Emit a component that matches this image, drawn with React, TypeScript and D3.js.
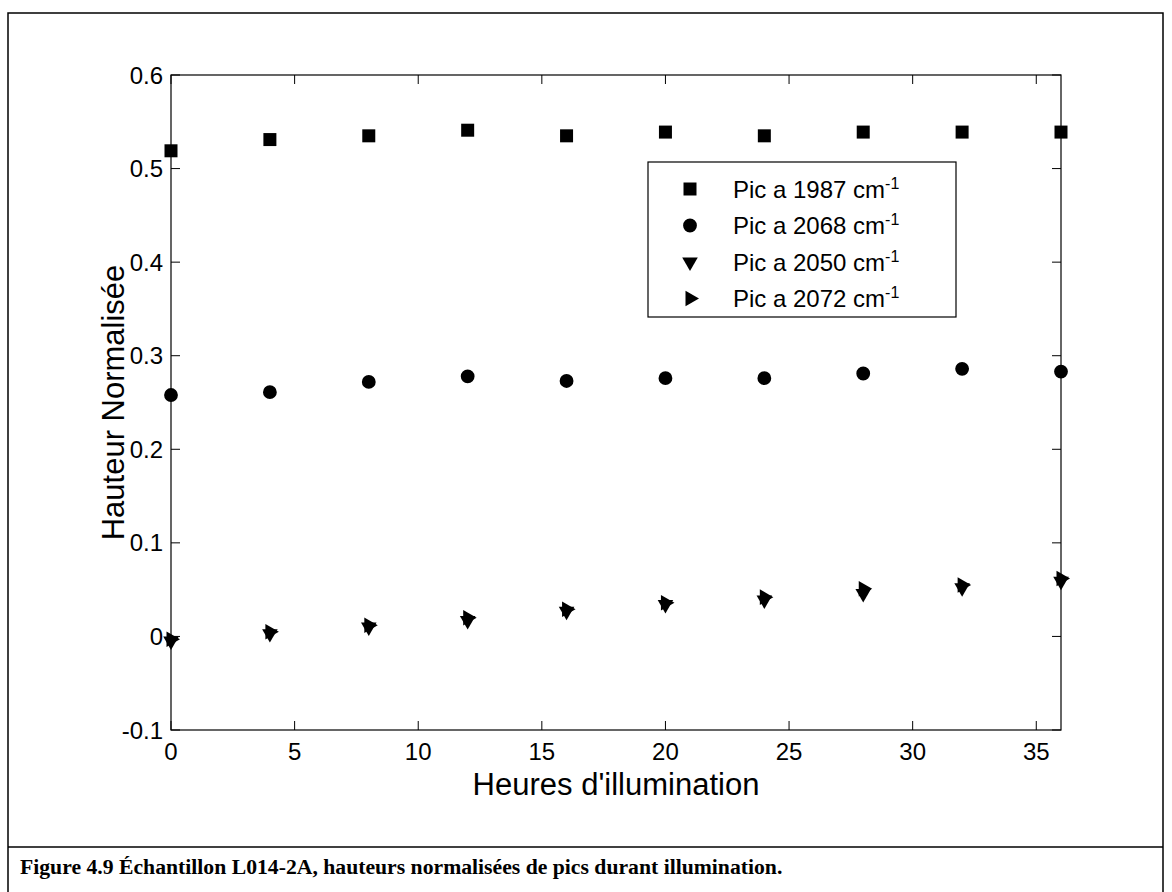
import React, { useEffect, useRef } from 'react';
import * as d3 from 'd3';

// heures d'illumination
const hours = [0, 4, 8, 12, 16, 20, 24, 28, 32, 36];

// hauteurs normalisees
const pic1987 = [0.519, 0.531, 0.535, 0.541, 0.535, 0.539, 0.535, 0.539, 0.539, 0.539];
const pic2068 = [0.258, 0.261, 0.272, 0.278, 0.273, 0.276, 0.276, 0.281, 0.286, 0.283];
const pic2050 = [-0.005, 0.003, 0.010, 0.017, 0.027, 0.034, 0.039, 0.046, 0.052, 0.059];
const pic2072 = [-0.003, 0.005, 0.012, 0.020, 0.029, 0.036, 0.042, 0.051, 0.055, 0.062];

const legendLabels = ['Pic a 1987 cm', 'Pic a 2068 cm', 'Pic a 2050 cm', 'Pic a 2072 cm'];
const xTicks = [0, 5, 10, 15, 20, 25, 30, 35];
const yTicks = [-0.1, 0, 0.1, 0.2, 0.3, 0.4, 0.5, 0.6];

const caption = 'Figure 4.9 Échantillon L014-2A, hauteurs normalisées de pics durant illumination.';

const App = () => {
  const svgRef = useRef<SVGSVGElement>(null);

  useEffect(() => {
    const svg = d3.select(svgRef.current);
    svg.selectAll('*').remove();

    const left = 171, right = 1061, top = 75, bottom = 730;
    const x = d3.scaleLinear().domain([0, 36]).range([left, right]);
    const y = d3.scaleLinear().domain([-0.1, 0.6]).range([bottom, top]);
    const sans = 'Liberation Sans, Arial, sans-serif';

    // cadre de la figure
    svg.append('path')
      .attr('d', 'M8,892 V13 H1163 V892')
      .attr('fill', 'none').attr('stroke', '#000').attr('stroke-width', 1.5);
    svg.append('line')
      .attr('x1', 8).attr('x2', 1163).attr('y1', 847).attr('y2', 847)
      .attr('stroke', '#000').attr('stroke-width', 1.5);

    svg.append('text')
      .attr('x', 20).attr('y', 874)
      .attr('font-family', 'Liberation Serif, Times New Roman, serif')
      .attr('font-weight', 'bold').attr('font-size', 21.7)
      .text(caption);

    // axes
    const g = svg.append('g');
    g.append('rect')
      .attr('x', left).attr('y', top)
      .attr('width', right - left).attr('height', bottom - top)
      .attr('fill', 'none').attr('stroke', '#000').attr('stroke-width', 1.2);

    const tick = 9;
    xTicks.forEach(t => {
      g.append('line').attr('x1', x(t)).attr('x2', x(t)).attr('y1', bottom).attr('y2', bottom - tick).attr('stroke', '#000');
      g.append('line').attr('x1', x(t)).attr('x2', x(t)).attr('y1', top).attr('y2', top + tick).attr('stroke', '#000');
      g.append('text')
        .attr('x', x(t)).attr('y', bottom + 30)
        .attr('text-anchor', 'middle')
        .attr('font-family', sans).attr('font-size', 24)
        .text(String(t));
    });
    yTicks.forEach(t => {
      g.append('line').attr('x1', left).attr('x2', left + tick).attr('y1', y(t)).attr('y2', y(t)).attr('stroke', '#000');
      g.append('line').attr('x1', right).attr('x2', right - tick).attr('y1', y(t)).attr('y2', y(t)).attr('stroke', '#000');
      g.append('text')
        .attr('x', left - 8).attr('y', y(t))
        .attr('dy', '0.36em')
        .attr('text-anchor', 'end')
        .attr('font-family', sans).attr('font-size', 24)
        .text(Math.abs(t) < 1e-9 ? '0' : t.toFixed(1));
    });

    g.append('text')
      .attr('x', (left + right) / 2).attr('y', 795)
      .attr('text-anchor', 'middle')
      .attr('font-family', sans).attr('font-size', 31)
      .text("Heures d'illumination");

    g.append('text')
      .attr('transform', `translate(124,${(top + bottom) / 2}) rotate(-90)`)
      .attr('text-anchor', 'middle')
      .attr('font-family', sans).attr('font-size', 31)
      .text('Hauteur Normalisée');

    // marqueurs
    const square = d3.symbol().type(d3.symbolSquare).size(169)();
    const circle = d3.symbol().type(d3.symbolCircle).size(150)();
    const tri = d3.symbol().type(d3.symbolTriangle).size(105)();

    const series = [
      { values: pic1987, path: square, rot: 0 },
      { values: pic2068, path: circle, rot: 0 },
      { values: pic2050, path: tri, rot: 180 },
      { values: pic2072, path: tri, rot: 90 },
    ];

    series.forEach(s => {
      g.selectAll(null)
        .data(hours)
        .enter()
        .append('path')
        .attr('d', s.path)
        .attr('transform', (d, i) => `translate(${x(d)},${y(s.values[i])}) rotate(${s.rot})`)
        .attr('fill', '#000');
    });

    // legende
    const lg = svg.append('g');
    lg.append('rect')
      .attr('x', 648).attr('y', 162).attr('width', 308).attr('height', 155)
      .attr('fill', '#fff').attr('stroke', '#000').attr('stroke-width', 1.2);
    series.forEach((s, i) => {
      const cy = 189 + i * 36.5;
      lg.append('path')
        .attr('d', s.path)
        .attr('transform', `translate(690,${cy}) rotate(${s.rot})`)
        .attr('fill', '#000');
      const t = lg.append('text')
        .attr('x', 733).attr('y', cy).attr('dy', '0.36em')
        .attr('font-family', sans).attr('font-size', 24);
      t.append('tspan').text(legendLabels[i]);
      t.append('tspan').attr('dy', '-0.55em').attr('font-size', 16).text('-1');
    });
  }, []);

  return (
    <svg ref={svgRef} width={1172} height={892} style={{ position: 'absolute', left: 0, top: 0, background: '#fff' }}></svg>
  );
};

export default App;
